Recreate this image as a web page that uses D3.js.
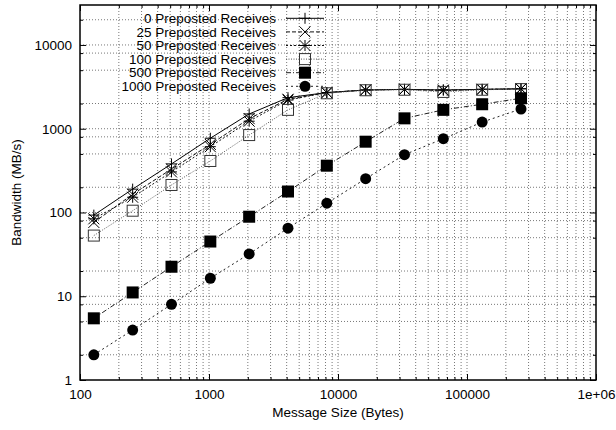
<!DOCTYPE html>
<html>
<head>
<meta charset="utf-8">
<script src="https://cdn.jsdelivr.net/npm/d3@7"></script>
<style>
  body { margin: 0; background: #fff; }
  text { font-family: "Liberation Sans", Arial, sans-serif; fill: #000; }
</style>
</head>
<body>
<div id="chart"></div>
<script>
// message sizes (bytes)
const sizes = [128, 256, 512, 1024, 2048, 4096, 8192, 16384, 32768, 65536, 131072, 262144];

const seriesNames = ["0 Preposted Receives", "25 Preposted Receives", "50 Preposted Receives",
                     "100 Preposted Receives", "500 Preposted Receives", "1000 Preposted Receives"];

// bandwidth (MB/s)
const bw0    = [93, 190, 380, 770, 1500, 2350, 2700, 2900, 2950, 2900, 2950, 3000];
const bw25   = [76, 165, 330, 650, 1320, 2250, 2700, 2900, 2950, 2850, 2950, 2980];
const bw50   = [84, 152, 305, 610, 1230, 2200, 2700, 2900, 2950, 2900, 2950, 3000];
const bw100  = [53, 105, 213, 412, 840, 1680, 2650, 2880, 2920, 2750, 2920, 2970];
const bw500  = [5.45, 11.1, 22.5, 45, 89, 178, 362, 700, 1330, 1680, 1960, 2310];
const bw1000 = [2.0, 3.95, 8.0, 16.4, 32, 65, 129, 253, 490, 760, 1200, 1720];

const xTickVals = [100, 1000, 10000, 100000, 1000000];
const xTickLabels = ["100", "1000", "10000", "100000", "1e+06"];
const yTickVals = [1, 10, 100, 1000, 10000];
const yTickLabels = ["1", "10", "100", "1000", "10000"];

const allSeries = [bw0, bw25, bw50, bw100, bw500, bw1000];
const markers = ["plus", "cross", "star", "square", "fsquare", "circle"];
const dashes = [null, "4,2", "2,2", "1,1.5", "5,2,1,2", "2,3"];
const lineColors = ["#000", "#111", "#111", "#555", "#222", "#222"];

var W = 616, H = 430;
var margin = {top: 5, right: 20, bottom: 50, left: 80};
var width = W - margin.left - margin.right,
    height = H - margin.top - margin.bottom;
var fontSize = "13.5px";

var svg = d3.select("#chart").append("svg")
    .attr("width", W).attr("height", H);
var g = svg.append("g")
    .attr("transform", "translate(" + margin.left + "," + margin.top + ")");

var x = d3.scaleLog().domain([100, 1e6]).range([0, width]);
var y = d3.scaleLog().domain([1, 30000]).range([height, 0]);

// minor positions
var xMinor = [], yMinor = [];
for (var e = 2; e < 6; e++) {
    for (var m = 2; m <= 9; m++) xMinor.push(m * Math.pow(10, e));
}
for (var e2 = 0; e2 < 5; e2++) {
    [2, 5, 8].forEach(function(m) {
        var v = m * Math.pow(10, e2);
        if (v <= 30000) yMinor.push(v);
    });
}

// grid
var grid = g.append("g").attr("class", "grid")
    .attr("stroke", "#555").attr("stroke-width", 0.8).attr("stroke-dasharray", "1,2");
grid.selectAll("line.gx")
    .data(xTickVals.slice(1, -1).concat(xMinor))
    .join("line")
    .attr("x1", d => x(d)).attr("x2", d => x(d))
    .attr("y1", 0).attr("y2", height);
grid.selectAll("line.gy")
    .data(yTickVals.slice(1).concat(yMinor))
    .join("line")
    .attr("class", "gy")
    .attr("x1", 0).attr("x2", width)
    .attr("y1", d => y(d)).attr("y2", d => y(d));

// axes (ticks point inward, mirrored)
function styleAxis(sel) {
    sel.select(".domain").remove();
    sel.selectAll("line").attr("stroke", "#000");
    sel.selectAll("text").style("font-size", fontSize);
}
g.append("g").attr("transform", "translate(0," + height + ")")
    .call(d3.axisBottom(x).tickValues(xTickVals).tickSize(-6).tickPadding(9)
        .tickFormat((d, i) => xTickLabels[i]))
    .call(styleAxis);
g.append("g").attr("transform", "translate(0," + height + ")")
    .call(d3.axisBottom(x).tickValues(xMinor).tickSize(-3).tickFormat(""))
    .call(styleAxis);
g.append("g")
    .call(d3.axisTop(x).tickValues(xTickVals).tickSize(-6).tickFormat(""))
    .call(styleAxis);
g.append("g")
    .call(d3.axisTop(x).tickValues(xMinor).tickSize(-3).tickFormat(""))
    .call(styleAxis);
g.append("g")
    .call(d3.axisLeft(y).tickValues(yTickVals).tickSize(-6).tickPadding(8)
        .tickFormat((d, i) => yTickLabels[i]))
    .call(styleAxis);
g.append("g")
    .call(d3.axisLeft(y).tickValues(yMinor).tickSize(-3).tickFormat(""))
    .call(styleAxis);
g.append("g").attr("transform", "translate(" + width + ",0)")
    .call(d3.axisRight(y).tickValues(yTickVals).tickSize(-6).tickFormat(""))
    .call(styleAxis);
g.append("g").attr("transform", "translate(" + width + ",0)")
    .call(d3.axisRight(y).tickValues(yMinor).tickSize(-3).tickFormat(""))
    .call(styleAxis);

// markers
function drawMarker(sel, type, s) {
    var h = s / 2;
    if (type === "plus" || type === "star") {
        sel.append("path").attr("d", `M${-h},0H${h}M0,${-h}V${h}`)
            .attr("stroke", "#000").attr("stroke-width", 1).attr("fill", "none");
    }
    if (type === "cross" || type === "star") {
        sel.append("path").attr("d", `M${-h},${-h}L${h},${h}M${-h},${h}L${h},${-h}`)
            .attr("stroke", "#000").attr("stroke-width", 1).attr("fill", "none");
    }
    if (type === "square") {
        sel.append("rect").attr("x", -h).attr("y", -h).attr("width", s).attr("height", s)
            .attr("stroke", "#333").attr("stroke-width", 1).attr("fill", "none");
    }
    if (type === "fsquare") {
        sel.append("rect").attr("x", -h - 0.5).attr("y", -h - 0.5).attr("width", s + 1).attr("height", s + 1)
            .attr("fill", "#000");
    }
    if (type === "circle") {
        sel.append("circle").attr("r", h).attr("fill", "#000");
    }
}

var line = d3.line()
    .x((d, i) => x(sizes[i]))
    .y(d => y(d));

allSeries.forEach(function(vals, k) {
    g.append("path")
        .datum(vals)
        .attr("d", line)
        .attr("fill", "none")
        .attr("stroke", lineColors[k])
        .attr("stroke-width", 1)
        .attr("stroke-dasharray", dashes[k]);
    vals.forEach(function(v, i) {
        var mk = g.append("g").attr("transform", `translate(${x(sizes[i])},${y(v)})`);
        drawMarker(mk, markers[k], 11);
    });
});

// legend
var legend = g.append("g").attr("transform", "translate(0,0)");
seriesNames.forEach(function(name, k) {
    var ly = 13.3 + k * 13.6;
    var item = legend.append("g").attr("transform", `translate(0,${ly})`);
    item.append("text")
        .attr("x", 196).attr("y", 0).attr("dy", "0.35em")
        .attr("text-anchor", "end")
        .style("font-size", fontSize)
        .text(name);
    item.append("line")
        .attr("x1", 206).attr("x2", 244)
        .attr("stroke", lineColors[k]).attr("stroke-width", 1)
        .attr("stroke-dasharray", dashes[k]);
    var mk = item.append("g").attr("transform", "translate(225,0)");
    drawMarker(mk, markers[k], 11);
});

// frame
g.append("rect").attr("width", width).attr("height", height)
    .attr("fill", "none").attr("stroke", "#000").attr("stroke-width", 1.5);

// axis titles
g.append("text")
    .attr("x", width / 2).attr("y", height + 37)
    .attr("text-anchor", "middle")
    .style("font-size", fontSize)
    .text("Message Size (Bytes)");
g.append("text")
    .attr("transform", "rotate(-90)")
    .attr("x", -height / 2).attr("y", -margin.left + 21)
    .attr("text-anchor", "middle")
    .style("font-size", fontSize)
    .text("Bandwidth (MB/s)");
</script>
</body>
</html>
